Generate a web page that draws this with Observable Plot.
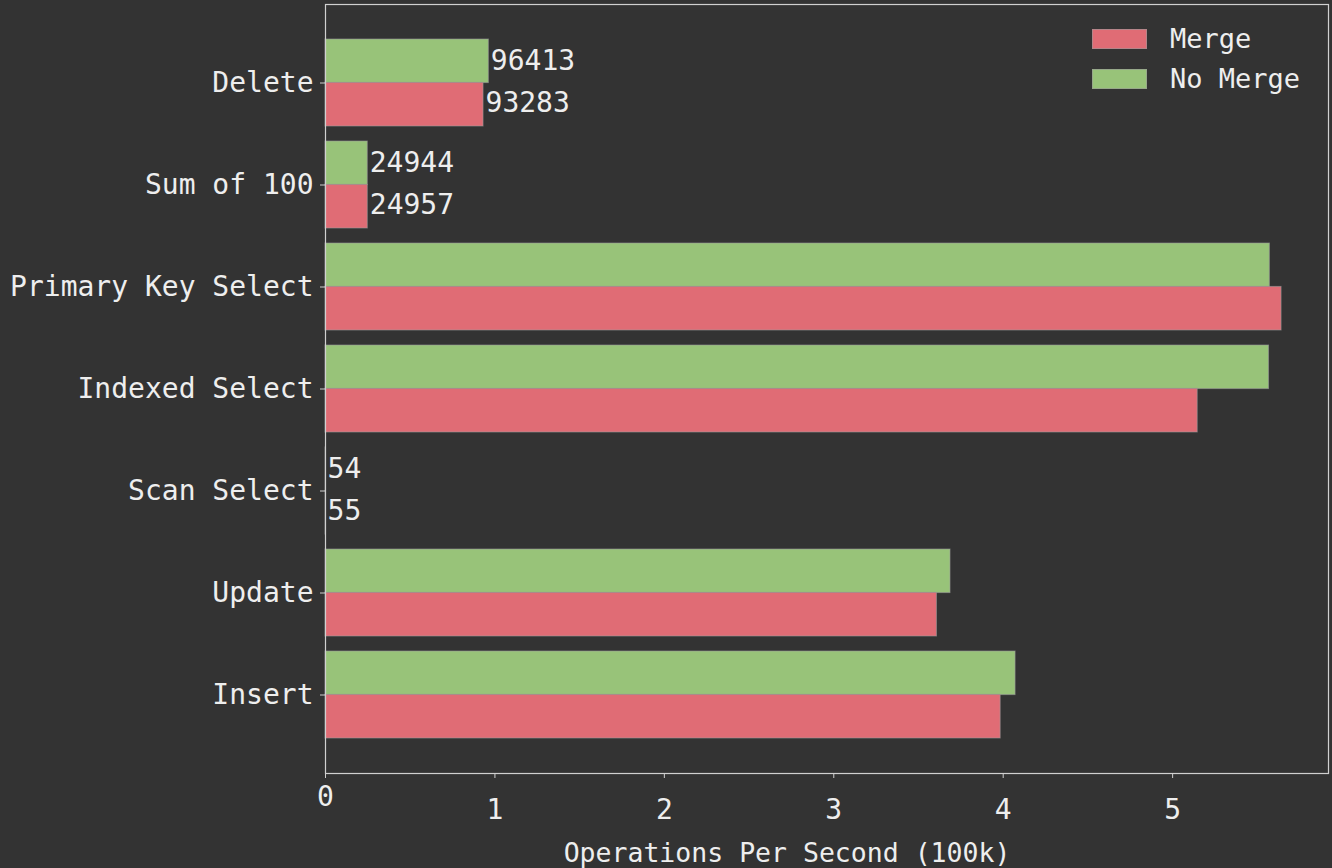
<!DOCTYPE html>
<html>
<head>
<meta charset="utf-8">
<script src="https://cdn.jsdelivr.net/npm/d3@7"></script>
<script src="https://cdn.jsdelivr.net/npm/@observablehq/plot@0.6"></script>
<style>
  html, body { margin: 0; padding: 0; background: #333333; }
  #wrap { position: relative; width: 1332px; height: 868px; overflow: hidden; }
  #legend { position: absolute; left: 0; top: 0; font-family: "DejaVu Sans Mono", monospace; font-size: 27px; color: #eeeeee; }
  .sw { position: absolute; width: 55px; height: 20px; box-sizing: border-box; border: 1px solid rgba(150,150,150,0.6); }
  .lab { position: absolute; line-height: 30px; white-space: nowrap; }
</style>
</head>
<body>
<div id="wrap"></div>
<script>
const categories = ["Delete", "Sum of 100", "Primary Key Select", "Indexed Select", "Scan Select", "Update", "Insert"];
const series = ["Merge", "No Merge"];
const colors = ["#e06c75", "#98c379"];
const mergeValues = [93283, 24957, 564300, 514800, 55, 360900, 398500];
const noMergeValues = [96413, 24944, 557400, 556900, 54, 368900, 407300];
const labeledCategories = ["Delete", "Sum of 100", "Scan Select"];
const xTicks = [0, 1, 2, 3, 4, 5];
const xLabel = "Operations Per Second (100k)";

const mergeRows = categories.map((c, i) => ({category: c, value: mergeValues[i]}));
const noMergeRows = categories.map((c, i) => ({category: c, value: noMergeValues[i]}));

const font = "DejaVu Sans Mono, monospace";
const fg = "#eeeeee";
const half = 43.4;
const fs = 28;

const chart = Plot.plot({
  width: 1332,
  height: 868,
  marginLeft: 325,
  marginRight: 4,
  marginTop: 4,
  marginBottom: 95,
  style: {background: "#333333", color: fg, fontFamily: font, fontSize: fs + "px"},
  x: {domain: [0, 5.92]},
  y: {domain: categories, paddingInner: 0.15, paddingOuter: 0.337},
  marks: [
    Plot.barX(noMergeRows, {x: d => d.value / 1e5, y: "category", fill: colors[1], insetBottom: half, stroke: "#999", strokeOpacity: 0.6, strokeWidth: 1}),
    Plot.barX(mergeRows, {x: d => d.value / 1e5, y: "category", fill: colors[0], insetTop: half, stroke: "#999", strokeOpacity: 0.6, strokeWidth: 1}),
    Plot.text(noMergeRows.filter(d => labeledCategories.includes(d.category)), {x: d => d.value / 1e5, y: "category", text: d => String(d.value), dx: 2, dy: -22, textAnchor: "start", fill: fg, fontSize: fs}),
    Plot.text(mergeRows.filter(d => labeledCategories.includes(d.category)), {x: d => d.value / 1e5, y: "category", text: d => String(d.value), dx: 2, dy: 20, textAnchor: "start", fill: fg, fontSize: fs}),
    Plot.frame({stroke: "#d0d0d0", strokeWidth: 1.2}),
    Plot.axisY({tickSize: 5, tickPadding: 7, label: null, stroke: "#d0d0d0", fill: fg, fontSize: fs}),
    Plot.axisX(xTicks.slice(0, 1), {tickSize: 5, tickPadding: 8, tickFormat: d3.format("d"), label: null, stroke: "#d0d0d0", fill: fg, fontSize: fs}),
    Plot.axisX(xTicks.slice(1), {tickSize: 5, tickPadding: 21, tickFormat: d3.format("d"), label: null, stroke: "#d0d0d0", fill: fg, fontSize: fs}),
    Plot.text([xLabel], {frameAnchor: "bottom", dy: 80, dx: -40, lineAnchor: "middle", fill: fg, fontSize: 26.5})
  ]
});

const wrap = document.getElementById("wrap");
wrap.appendChild(chart);

const legend = document.createElement("div");
legend.id = "legend";
series.forEach((s, i) => {
  const top = 29 + i * 39.5;
  const sw = document.createElement("div");
  sw.className = "sw";
  sw.style.background = colors[i];
  sw.style.left = "1092px";
  sw.style.top = top + "px";
  const lab = document.createElement("div");
  lab.className = "lab";
  lab.textContent = s;
  lab.style.left = "1170px";
  lab.style.top = (top - 5) + "px";
  legend.appendChild(sw);
  legend.appendChild(lab);
});
wrap.appendChild(legend);
</script>
</body>
</html>
